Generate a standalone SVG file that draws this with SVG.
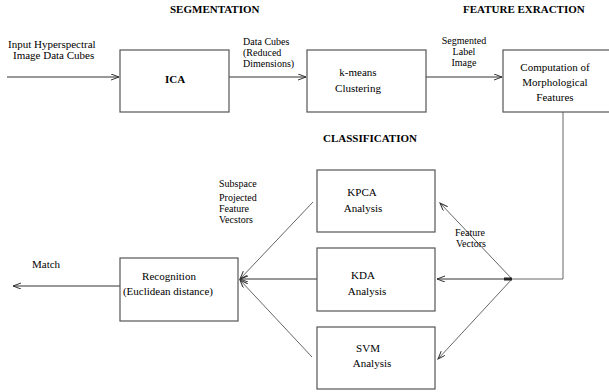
<svg xmlns="http://www.w3.org/2000/svg" width="609" height="392" viewBox="0 0 609 392" font-family="'Liberation Serif', 'Times New Roman', serif" font-size="11">
<style>
text{font-family:'Liberation Serif','Times New Roman',serif;font-size:11px;fill:#000}
.s{font-size:10px}
.h{font-weight:bold}
.c{text-anchor:middle}
.box{fill:#fff;stroke:#555;stroke-width:1.2}
.ln{fill:none;stroke:#333;stroke-width:1}
.dg{fill:none;stroke:#666;stroke-width:1}
</style>
<defs>
<marker id="ah" markerUnits="userSpaceOnUse" markerWidth="10" markerHeight="8" refX="8" refY="3" orient="auto">
<path d="M0,0 L8,3 L0,6" fill="none" stroke="#333" stroke-width="1"/>
</marker>
</defs>
<rect width="609" height="392" fill="#fff"/>
<text class="h" x="170" y="13">SEGMENTATION</text>
<text class="h" x="463" y="13">FEATURE EXRACTION</text>
<text class="h" x="323" y="142">CLASSIFICATION</text>
<g id="connectors">
<line class="ln" x1="7" y1="77" x2="119" y2="77" marker-end="url(#ah)"/>
<line class="ln" x1="229" y1="77" x2="306" y2="77" marker-end="url(#ah)"/>
<line class="ln" x1="426" y1="77" x2="502" y2="77" marker-end="url(#ah)"/>
<polyline class="dg" points="563,112 563,279 512,279"/>
<line class="ln" x1="512" y1="279" x2="437" y2="279" marker-end="url(#ah)"/>
<line class="dg" x1="512" y1="279" x2="440" y2="203" marker-end="url(#ah)"/>
<line class="dg" x1="512" y1="279" x2="438" y2="359" marker-end="url(#ah)"/>
<rect x="504" y="277.5" width="8" height="3" fill="#222"/>
<line class="dg" x1="313" y1="202" x2="240" y2="279" marker-end="url(#ah)"/>
<line class="ln" x1="317" y1="279" x2="240" y2="279" marker-end="url(#ah)"/>
<line class="dg" x1="312" y1="357" x2="240" y2="280" marker-end="url(#ah)"/>
<line class="ln" x1="120" y1="286" x2="13" y2="286" marker-end="url(#ah)"/>
</g>
<g id="labels">
<text x="8" y="48">Input Hyperspectral</text>
<text x="13" y="59">Image Data Cubes</text>
<text class="s" x="243" y="45">Data Cubes</text>
<text class="s" x="243" y="56">(Reduced</text>
<text class="s" x="243" y="67">Dimensions)</text>
<text class="c s" x="464" y="44">Segmented</text>
<text class="c s" x="464" y="55">Label</text>
<text class="c s" x="464" y="66">Image</text>
<text class="s" x="455" y="236">Feature</text>
<text class="s" x="456" y="247">Vectors</text>
<text class="s" x="219" y="187">Subspace</text>
<text class="s" x="219" y="201">Projected</text>
<text class="s" x="219" y="212">Feature</text>
<text class="s" x="219" y="223">Vecstors</text>
<text x="32" y="268">Match</text>
</g>
<g id="ica">
<rect class="box" x="120" y="50" width="109" height="62"/>
<text class="c h" x="175" y="83">ICA</text>
</g>
<g id="kmeans">
<rect class="box" x="307" y="50" width="119" height="62"/>
<text class="c" x="358" y="76">k-means</text>
<text class="c" x="358" y="92">Clustering</text>
</g>
<g id="morph">
<rect class="box" x="503" y="50" width="120" height="62"/>
<text class="c" x="555" y="71">Computation of</text>
<text class="c" x="555" y="86">Morphological</text>
<text class="c" x="555" y="101">Features</text>
</g>
<g id="kpca">
<rect class="box" x="317" y="170" width="118" height="62"/>
<text class="c" x="362" y="196">KPCA</text>
<text class="c" x="363" y="212">Analysis</text>
</g>
<g id="kda">
<rect class="box" x="317" y="248" width="118" height="63"/>
<text class="c" x="363" y="279">KDA</text>
<text class="c" x="367" y="295">Analysis</text>
</g>
<g id="svm">
<rect class="box" x="317" y="327" width="118" height="62"/>
<text class="c" x="368" y="352">SVM</text>
<text class="c" x="372" y="367">Analysis</text>
</g>
<g id="recognition">
<rect class="box" x="120" y="258" width="118" height="63"/>
<text class="c" x="169" y="280">Recognition</text>
<text class="c" x="168" y="295">(Euclidean distance)</text>
</g>
</svg>
